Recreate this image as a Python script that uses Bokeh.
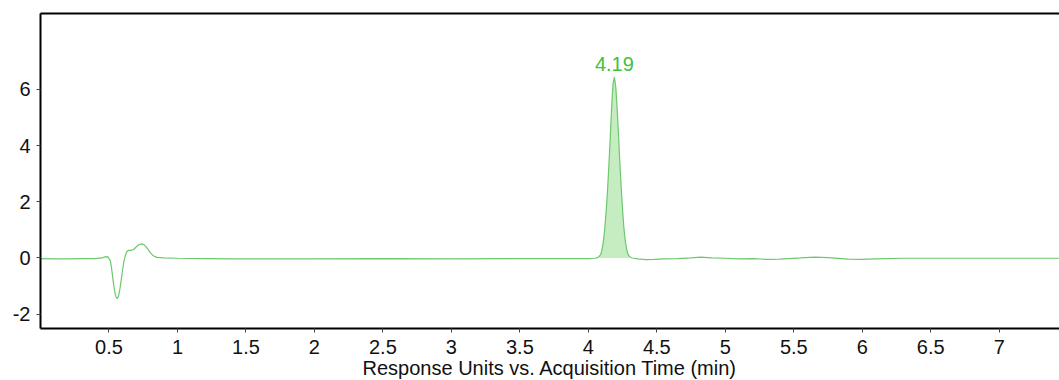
from bokeh.plotting import figure
from bokeh.models import LinearAxis, FixedTicker, Range1d, ColumnDataSource
from bokeh.core.properties import value
from bokeh.embed import file_html
from bokeh.resources import INLINE

# ---- data ----
time_min = [0.00, 0.10, 0.20, 0.30, 0.40, 0.45, 0.47, 0.49, 0.51, 0.52, 0.53, 0.54, 0.55,
            0.56, 0.57, 0.58, 0.59, 0.60, 0.61, 0.62, 0.63, 0.64, 0.66, 0.68, 0.70, 0.72,
            0.74, 0.76, 0.78, 0.80, 0.82, 0.85, 0.90, 1.00, 1.20, 1.40, 1.60, 2.00, 2.50,
            3.00, 3.50, 3.80, 4.00, 4.05, 4.07, 4.09, 4.10, 4.11, 4.12, 4.13, 4.14, 4.15,
            4.16, 4.17, 4.18, 4.19, 4.20, 4.21, 4.22, 4.23, 4.24, 4.25, 4.26, 4.27, 4.28,
            4.29, 4.30, 4.32, 4.36, 4.42, 4.48, 4.55, 4.65, 4.75, 4.82, 4.90, 5.00, 5.10,
            5.20, 5.30, 5.40, 5.55, 5.65, 5.75, 5.90, 6.00, 6.10, 6.30, 6.60, 7.00, 7.50]
response = [-0.02, -0.03, -0.03, -0.02, -0.02, 0.00, 0.04, 0.05, -0.10, -0.40, -0.80, -1.15, -1.38,
            -1.45, -1.35, -1.10, -0.75, -0.40, -0.10, 0.10, 0.22, 0.27, 0.27, 0.30, 0.40, 0.48,
            0.50, 0.46, 0.34, 0.20, 0.09, 0.02, 0.00, -0.01, -0.02, -0.03, -0.03, -0.03, -0.02,
            -0.03, -0.02, -0.02, -0.02, -0.01, 0.02, 0.12, 0.30, 0.60, 1.05, 1.65, 2.40, 3.30,
            4.30, 5.35, 6.20, 6.44, 6.10, 5.35, 4.40, 3.40, 2.50, 1.70, 1.05, 0.60, 0.30,
            0.13, 0.05, 0.00, -0.03, -0.06, -0.05, -0.03, -0.02, 0.00, 0.03, 0.00, -0.01, -0.03,
            -0.02, -0.05, -0.04, 0.00, 0.03, 0.01, -0.04, -0.05, -0.03, -0.01, -0.01, -0.01, -0.01]

peak_start = 4.07
peak_end = 4.31
peak_rt = [4.19]
peak_height = [6.44]
peak_labels = ["4.19"]

x_ticks = [0.5, 1, 1.5, 2, 2.5, 3, 3.5, 4, 4.5, 5, 5.5, 6, 6.5, 7]
y_ticks = [-2, 0, 2, 4, 6]
y_tick_labels = ["-2", "0", "2", "4", "6"]
x_title = "Response Units vs. Acquisition Time (min)"

FONT = "Liberation Sans"
LINE_COLOR = "#6cc86c"
FILL_COLOR = "#c6ecc2"
LABEL_COLOR = "#40c040"

p = figure(width=1059, height=380, output_backend="svg", toolbar_location=None,
           x_range=Range1d(0, 7.44), y_range=Range1d(-2.51, 8.70),
           frame_width=1019, frame_height=315,
           min_border_left=40, min_border_right=0, min_border_top=13, min_border_bottom=52,
           x_axis_location=None, y_axis_location=None)
p.outline_line_color = None
p.grid.visible = False
p.background_fill_color = "white"
p.border_fill_color = "white"

# peak area fill
fx = [t for t in time_min if peak_start <= t <= peak_end]
fy = [r for t, r in zip(time_min, response) if peak_start <= t <= peak_end]
p.varea(x=fx, y1=[0] * len(fx), y2=fy, fill_color=FILL_COLOR, fill_alpha=1.0)

# trace
p.line(time_min, response, line_color=LINE_COLOR, line_width=1.2)

# peak label
src = ColumnDataSource(dict(x=peak_rt, y=peak_height, t=peak_labels))
p.text(x="x", y="y", text="t", source=src, text_align="center", text_baseline="alphabetic",
       y_offset=-13, text_color=LABEL_COLOR, text_font=value(FONT), text_font_size="20px")

def style(ax):
    ax.axis_line_color = "black"
    ax.axis_line_width = 2
    ax.major_tick_line_color = "#444444"
    ax.major_tick_line_width = 1
    ax.major_tick_in = 0
    ax.major_tick_out = 4
    ax.minor_tick_line_color = None
    ax.major_label_text_font = FONT
    ax.major_label_text_font_size = "20px"
    ax.major_label_text_color = "#111111"

xa = LinearAxis(ticker=FixedTicker(ticks=x_ticks), axis_label=x_title)
style(xa)
xa.major_label_standoff = 7
xa.axis_label_text_font = FONT
xa.axis_label_text_font_size = "20px"
xa.axis_label_text_font_style = "normal"
xa.axis_label_text_color = "#111111"
xa.axis_label_standoff = 0
p.add_layout(xa, "below")

ya = LinearAxis(ticker=FixedTicker(ticks=y_ticks))
style(ya)
ya.major_label_standoff = 6
ya.major_label_overrides = {t: s for t, s in zip(y_ticks, y_tick_labels)}
p.add_layout(ya, "left")

ta = LinearAxis(ticker=FixedTicker(ticks=[]))
ta.axis_line_color = "black"
ta.axis_line_width = 2
ta.major_tick_line_color = None
ta.minor_tick_line_color = None
ta.major_label_text_font_size = "0px"
ta.major_tick_out = 0
ta.major_label_standoff = 0
p.add_layout(ta, "above")

open("out.html", "w").write(file_html(p, INLINE))
